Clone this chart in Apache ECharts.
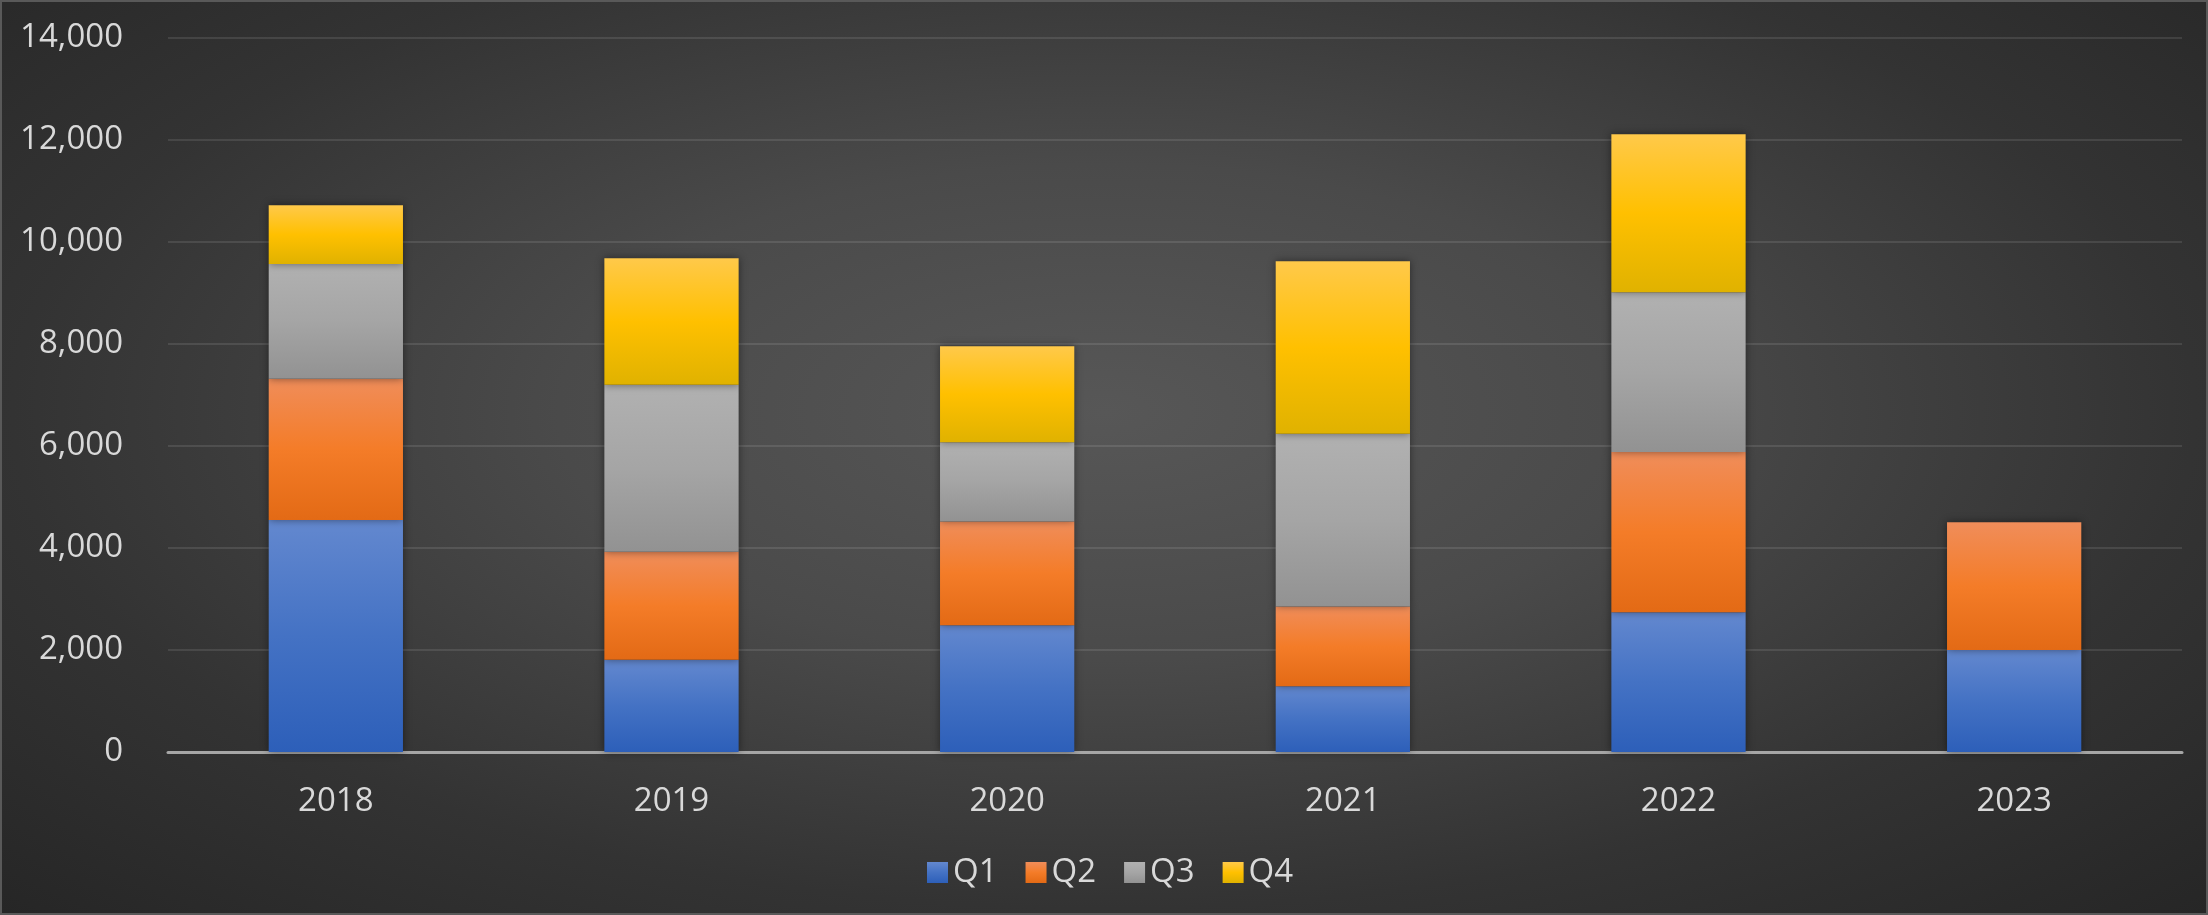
<!DOCTYPE html>
<html>
<head>
<meta charset="utf-8">
<title>Quarterly totals</title>
<script src="https://cdn.jsdelivr.net/npm/echarts@6/dist/echarts.min.js"></script>
<style>
  html, body { margin: 0; padding: 0; }
  #chart {
    width: 2208px;
    height: 915px;
    box-sizing: border-box;
    border: 2px solid #595959;
    background: radial-gradient(ellipse at 50% 45%, #575757 0%, #4a4a4a 35%, #333333 70%, #262626 100%);
  }
</style>
</head>
<body>
<div id="chart"></div>
<script>
// data
var years = ["2018", "2019", "2020", "2021", "2022", "2023"];
var q1 = [4550, 1810, 2485, 1290, 2740, 2000];
var q2 = [2770, 2115, 2035, 1565, 3140, 2505];
var q3 = [2250, 3275, 1555, 3385, 3135, null];
var q4 = [1150, 2480, 1880, 3385, 3100, null];
var yTicks = [0, 2000, 4000, 6000, 8000, 10000, 12000, 14000];

var names = ["Q1", "Q2", "Q3", "Q4"];
var values = [q1, q2, q3, q4];
// top / middle / bottom stops, excel style gradient fill
var fills = [
  ["#6388cf", "#4472c4", "#2d5fb9"],
  ["#f08d5a", "#f47c28", "#e36a15"],
  ["#b1b1b1", "#a5a5a5", "#929292"],
  ["#ffc94a", "#ffc000", "#e0b200"]
];

function grad(c) {
  return new echarts.graphic.LinearGradient(0, 0, 0, 1, [
    { offset: 0, color: c[0] },
    { offset: 0.5, color: c[1] },
    { offset: 1, color: c[2] }
  ]);
}

var chart = echarts.init(document.getElementById("chart"), null, { renderer: "canvas" });

var series = [];
for (var i = 0; i < names.length; i++) {
  series.push({
    name: names[i],
    type: "bar",
    stack: "total",
    barWidth: "40%",
    data: values[i],
    itemStyle: {
      color: grad(fills[i]),
      shadowColor: "rgba(0,0,0,0.45)",
      shadowBlur: 8
    }
  });
}

chart.setOption({
  animation: false,
  backgroundColor: "transparent",
  textStyle: {
    fontFamily: "Open Sans",
    color: "#d9d9d9"
  },
  grid: {
    left: 166,
    right: 24,
    top: 36,
    bottom: 161,
    containLabel: false
  },
  legend: {
    data: names,
    bottom: 19,
    left: 920,
    icon: "rect",
    itemWidth: 21,
    itemHeight: 21,
    itemGap: 28,
    textStyle: {
      color: "#d9d9d9",
      fontSize: 33,
      fontFamily: "Open Sans"
    }
  },
  xAxis: {
    type: "category",
    data: years,
    axisTick: { show: false },
    axisLine: {
      show: true,
      lineStyle: { color: "#a6a6a6", width: 3 }
    },
    axisLabel: {
      color: "#d9d9d9",
      fontSize: 33,
      margin: 33
    },
    splitLine: { show: false }
  },
  yAxis: {
    type: "value",
    min: yTicks[0],
    max: yTicks[yTicks.length - 1],
    interval: yTicks[1] - yTicks[0],
    axisLine: { show: false },
    axisTick: { show: false },
    axisLabel: {
      color: "#d9d9d9",
      fontSize: 33,
      margin: 45,
      formatter: function (v) {
        return v.toLocaleString("en-US");
      }
    },
    splitLine: {
      lineStyle: { color: "rgba(255,255,255,0.1)", width: 2 }
    }
  },
  series: series
});
</script>
</body>
</html>
